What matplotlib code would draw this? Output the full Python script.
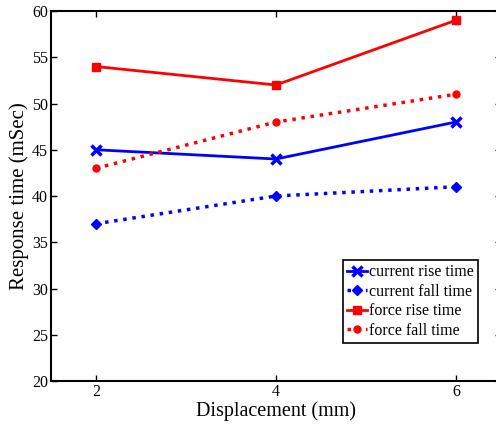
import matplotlib
matplotlib.use("Agg")
import matplotlib.pyplot as plt

displacement = [2, 4, 6]
current_rise = [45, 44, 48]
current_fall = [37, 40, 41]
force_rise = [54, 52, 59]
force_fall = [43, 48, 51]
xticks = [2, 4, 6]
yticks = [20, 25, 30, 35, 40, 45, 50, 55, 60]

plt.rcParams['font.family'] = ['Liberation Serif', 'DejaVu Serif']
fig = plt.figure(figsize=(4.96, 4.25), dpi=100)
ax = fig.add_axes([0.1028, 0.1035, 0.907, 0.8706])

ax.plot(displacement, current_rise, color='blue', ls='-', lw=2, marker='x', ms=7, mew=2.5, label='current rise time')
ax.plot(displacement, current_fall, color='blue', ls=':', lw=2.5, marker='D', ms=5, label='current fall time')
ax.plot(displacement, force_rise, color='red', ls='-', lw=2, marker='s', ms=6, label='force rise time')
ax.plot(displacement, force_fall, color='red', ls=':', lw=2.5, marker='o', ms=5, label='force fall time')

ax.set_xlim(1.5, 6.5)
ax.set_ylim(20, 60)
ax.set_xticks(xticks)
ax.set_yticks(yticks)
ax.tick_params(direction='in', top=True, right=True, labelsize=11.5, length=4, width=1, pad=2)
for s in ax.spines.values():
    s.set_linewidth(1.5)
ax.set_xlabel('Displacement (mm)', fontsize=14.5, labelpad=1)
ax.set_ylabel('Response time (mSec)', fontsize=15, labelpad=2)

leg = ax.legend(loc='lower right', bbox_to_anchor=(478/496, (425-343)/425), bbox_transform=fig.transFigure,
                fancybox=False, edgecolor='black', fontsize=11.5, handlelength=1.25, handletextpad=0.15,
                borderpad=0.25, labelspacing=0.22, borderaxespad=0, framealpha=1)
leg.get_frame().set_linewidth(1.2)

fig.savefig('out.png', dpi=100)
